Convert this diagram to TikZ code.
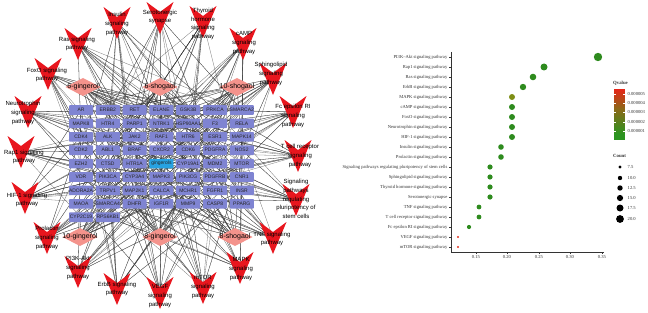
\documentclass[tikz,border=0pt]{standalone}
\usepackage{fontspec}
\setmainfont{Liberation Sans}
\newfontfamily\serifplot{Liberation Serif}
\pgfdeclarelayer{background}
\pgfsetlayers{background,main}
\definecolor{vred}{HTML}{E8161E}
\definecolor{boxblue}{HTML}{7F84D2}
\definecolor{gblue}{HTML}{27A2E2}
\definecolor{dpink}{HTML}{F4938C}
\definecolor{edgec}{HTML}{3A3A3A}
\definecolor{dotg}{HTML}{2E8B1E}
\definecolor{doto}{HTML}{7E8E16}
\definecolor{dotr}{HTML}{E3301E}
\definecolor{qred}{HTML}{E62518}
\definecolor{qmid}{HTML}{8A6A18}
\definecolor{qgreen}{HTML}{2C9420}
\begin{document}
\begin{tikzpicture}[x=1pt,y=-1pt,
  edge/.style={draw=edgec, line width=0.3pt, opacity=0.7},
  tbox/.style={rectangle, rounded corners=0.8pt, fill=boxblue, minimum width=24pt, minimum height=9.6pt, inner sep=0pt, font=\fontsize{5}{5}\selectfont, text=black!85},
  gbox/.style={tbox, fill=gblue},
  cmp/.style={font=\fontsize{7}{7}\selectfont, inner sep=0pt},
  pw/.style={align=center, font=\fontsize{6}{8.8}\selectfont, inner sep=0pt},
  rl/.style={anchor=east, font=\serifplot\fontsize{4.6}{5}\selectfont, text=black!80, inner sep=0pt},
  axl/.style={font=\serifplot\fontsize{4.6}{5}\selectfont, text=black!80, inner sep=0pt},
]
\useasboundingbox (0,0) rectangle (648,313);

% targets
\foreach \lab [count=\i from 0] in {AR,ERBB2,RET,ELANE,GSK3B,PRKCA,SMARCA2,
  MAPK8,HTR4,PARP1,NTRK1,HSP90AA1,F3,RELA,
  CDK4,ALK,JAK2,RAF1,HTR6,ESR1,MAPK14,
  CDK2,ABL1,BRAF,CXCR2,CDK6,PDGFRA,NOS2,
  EZH2,CTSD,HTR1A,gingerols,CYP19A1,MDM2,MTOR,
  VDR,PIK3CA,CYP3A4,MAPK3,PIK3CG,PDGFRB,CNR1,
  ADORA2A,TRPV1,MAP2K1,CALCA,MCHR1,FGFR1,INSR,
  MAOA,SMARCA4,DHFR,IGF1R,MMP9,CASP8,PPARG,
  CYP2C19,RPS6KB1}{
  \pgfmathtruncatemacro\rr{\i/7}
  \pgfmathtruncatemacro\cc{\i-7*\rr}
  \ifnum\i=31 \def\sty{gbox}\else\def\sty{tbox}\fi
  \node[\sty] (t\i) at ({81+26.8*\cc},{110+13.4*\rr}) {\makebox[0pt]{\lab}};
}

% compounds
\foreach \cx/\cy/\ctxt [count=\i] in {83/87/6-gingerol, 160/87/6-shogaol, 237/87/10-shogaol, 80/237/10-gingerol, 160/237/8-gingerol, 235/237/8-shogaol}{
  \fill[dpink] (\cx-17.5,\cy) -- (\cx,\cy-9) -- (\cx+17.5,\cy) -- (\cx,\cy+9) -- cycle;
  \node[cmp] (c\i) at (\cx,\cy) {\ctxt};
}

% pathways
\foreach \vx/\vy/\lx/\ly/\ptxt [count=\i] in {
  117/23/117/24/{Insulin\\signaling\\pathway},
  160/18/160/17/{Serotonergic\\synapse},
  203/22/203/24/{Thyroid\\hormone\\signaling\\pathway},
  78/44/77/44/{Ras signaling\\pathway},
  243/44/244/43/{cAMP\\signaling\\pathway},
  48/74/47/75/{FoxO signaling\\pathway},
  273/79/271/74/{Sphingolipid\\signaling\\pathway},
  28/112/23/113/{Neurotrophin\\signaling\\pathway},
  293/112/293/116/{Fc epsilon RI\\signaling\\pathway},
  21/152/24/157/{Rap1 signaling\\pathway},
  298/156/300/156/{T cell receptor\\signaling\\pathway},
  25/198/27/200/{HIF-1 signaling\\pathway},
  296/200/296/199/{Signaling\\pathways\\regulating\\pluripotency of\\stem cells},
  47/238/47/238/{Prolactin\\signaling\\pathway},
  273/238/272/239/{TNF signaling\\pathway},
  78/272/78/268/{PI3K-Akt\\signaling\\pathway},
  240/268/241/269/{MAPK\\signaling\\pathway},
  117/289/117/289/{ErbB signaling\\pathway},
  160/293/160/296/{VEGF\\signaling\\pathway},
  203/288/203/287/{mTOR\\signaling\\pathway}}{
  \coordinate (v\i) at (\vx,\vy);
  \fill[vred] (\vx-13.5,\vy-16) -- (\vx,\vy-6) -- (\vx+13.5,\vy-16) -- (\vx,\vy+16) -- cycle;
  \node[pw] (q\i) at (\lx,\ly) {\ptxt};
}

% edges
\begin{pgfonlayer}{background}
\foreach \p in {1,...,20}{
  \foreach \k in {1,...,18}{
    \pgfmathtruncatemacro\tg{mod(\p*23+\k*\k*7+\k*11,58)}
    \draw[edge] (v\p) -- (t\tg);
  }
}
\foreach \c in {1,...,6}{
  \foreach \k in {1,...,26}{
    \pgfmathtruncatemacro\tg{mod(\c*17+\k*\k*5+\k*3,58)}
    \draw[edge] (c\c) -- (t\tg);
  }
  \draw[edge] (t31) -- (c\c);
}
\end{pgfonlayer}

% right panel: bubble chart
\draw[line width=0.6pt, black!80] (451,52) -- (451,252) -- (604,252);
\foreach \lab [count=\i] in {PI3K–Akt signaling pathway, Rap1 signaling pathway, Ras signaling pathway, ErbB signaling pathway, MAPK signaling pathway, cAMP signaling pathway, FoxO signaling pathway, Neurotrophin signaling pathway, HIF-1 signaling pathway, Insulin signaling pathway, Prolactin signaling pathway, Signaling pathways regulating pluripotency of stem cells, Sphingolipid signaling pathway, Thyroid hormone signaling pathway, Serotonergic synapse, TNF signaling pathway, T cell receptor signaling pathway, Fc epsilon RI signaling pathway, VEGF signaling pathway, mTOR signaling pathway}{
  \draw[line width=0.4pt, black!80] (451,{47+10*\i}) -- (449,{47+10*\i});
  \node[rl] (r\i) at (447.5,{47+10*\i}) {\lab};
}
\foreach \xv/\lab in {476/0.15, 507/0.20, 539/0.25, 570/0.30, 602/0.35}{
  \draw[line width=0.4pt, black!80] (\xv,252) -- (\xv,254);
  \node[axl, anchor=north] at (\xv,255) {\lab};
}
\foreach \xv/\rad/\cl [count=\i] in {598/4.2/dotg, 544/3.5/dotg, 533/3.3/dotg, 523/3.2/dotg, 512/3.0/doto, 512/3.0/dotg, 512/3.0/dotg, 512/3.0/dotg, 512/3.0/dotg, 501/2.8/dotg, 501/2.8/dotg, 490/2.6/dotg, 490/2.6/dotg, 490/2.6/dotg, 490/2.6/dotg, 479/2.4/dotg, 479/2.4/dotg, 469/2.1/dotg, 458/1.1/dotr, 458/1.1/dotr}{
  \fill[\cl] (\xv,{47+10*\i}) circle (\rad);
}

% legend
\node[axl, anchor=west, font=\serifplot\bfseries\fontsize{4.8}{5}\selectfont] (qv) at (613,83) {Qvalue};
\foreach \s in {0,...,50}{
  \ifnum\s<21
    \pgfmathtruncatemacro\pc{100-5*\s}
    \colorlet{slc}{qred!\pc!qmid}
  \else
    \pgfmathtruncatemacro\pc{max(0,100-4*(\s-20))}
    \colorlet{slc}{qmid!\pc!qgreen}
  \fi
  \fill[slc] (614,{89+\s}) rectangle (625,{90.2+\s});
}
\foreach \yy/\lab in {94/0.000005, 103/0.000004, 112/0.000003, 122/0.000002, 131/0.000001}{
  \draw[white, line width=0.3pt] (614,\yy) -- (616,\yy) (623,\yy) -- (625,\yy);
  \node[axl, anchor=west] at (627.5,\yy) {\lab};
}
\node[axl, anchor=west, font=\serifplot\bfseries\fontsize{4.8}{5}\selectfont] (ct) at (613,156) {Count};
\foreach \yy/\rad/\lab in {167/1.7/7.5, 178/2.2/10.0, 188/2.7/12.5, 198/3.1/15.0, 208/3.5/17.5, 219/3.9/20.0}{
  \fill[black] (620,\yy) circle (\rad);
  \node[axl, anchor=west] at (627.5,\yy) {\lab};
}
\end{tikzpicture}
\end{document}
